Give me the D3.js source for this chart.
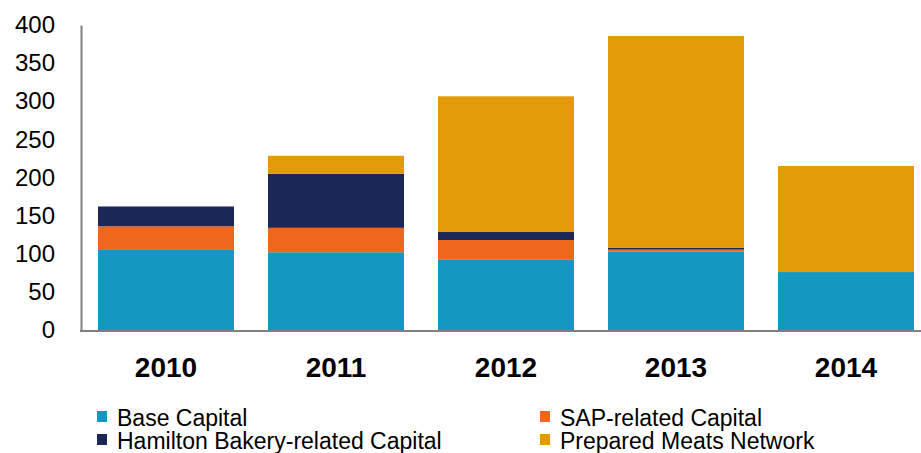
<!DOCTYPE html>
<html>
<head>
<meta charset="utf-8">
<script src="https://cdn.jsdelivr.net/npm/d3@7"></script>
<style>
  body { margin: 0; background: #fff; }
  svg { display: block; font-family: Arial, "Liberation Sans", sans-serif; }
</style>
</head>
<body>
<svg width="921" height="453"></svg>
<script>
var years = ["2010", "2011", "2012", "2013", "2014"];
var seriesNames = ["Base Capital", "SAP-related Capital", "Hamilton Bakery-related Capital", "Prepared Meats Network"];
var baseCapital = [105, 102, 92, 103, 76];
var sapCapital = [31, 32, 26, 2.5, 0];
var hamiltonCapital = [26, 71, 10.5, 2.2, 0];
var preparedMeats = [0, 23.5, 178, 278, 139];
var yTicks = [0, 50, 100, 150, 200, 250, 300, 350, 400];
var colors = ["#1497c0", "#ef661d", "#1b2757", "#e39a09"];

var svg = d3.select("svg");

var rows = years.map(function(yr, i) {
  return {
    year: yr,
    "Base Capital": baseCapital[i],
    "SAP-related Capital": sapCapital[i],
    "Hamilton Bakery-related Capital": hamiltonCapital[i],
    "Prepared Meats Network": preparedMeats[i]
  };
});

var stacked = d3.stack().keys(seriesNames)(rows);

var x = d3.scaleBand()
  .domain(years)
  .range([81, 931])
  .paddingInner(0.2)
  .paddingOuter(0.1);

var y = d3.scaleLinear()
  .domain([0, 400])
  .range([330, 25]);

var color = d3.scaleOrdinal().domain(seriesNames).range(colors);

// bars
svg.append("g")
  .selectAll("g")
  .data(stacked)
  .enter()
  .append("g")
  .attr("fill", function(d) { return color(d.key); })
  .selectAll("rect")
  .data(function(d) { return d; })
  .enter()
  .append("rect")
  .attr("x", function(d) { return x(d.data.year); })
  .attr("width", x.bandwidth())
  .attr("y", function(d) { return y(d[1]); })
  .attr("height", function(d) { return y(d[0]) - y(d[1]); });

// y axis
var yAxis = d3.axisLeft(y).tickValues(yTicks).tickSize(0).tickPadding(26);
var gy = svg.append("g")
  .attr("transform", "translate(81,0)")
  .call(yAxis);
gy.select(".domain").attr("stroke", "#808080").attr("stroke-width", 2);
gy.selectAll("text")
  .attr("font-size", 24)
  .attr("font-family", "Arial, 'Liberation Sans', sans-serif")
  .attr("fill", "#000");

// x axis
var xAxis = d3.axisBottom(x).tickSize(0).tickPadding(0);
var gx = svg.append("g")
  .attr("transform", "translate(0,331)")
  .call(xAxis);
gx.select(".domain").attr("stroke", "#808080").attr("stroke-width", 2)
  .attr("d", "M80,0H921");
gx.selectAll("text")
  .attr("y", 46)
  .attr("dy", 0)
  .attr("font-size", 28)
  .attr("font-weight", "bold")
  .attr("font-family", "Arial, 'Liberation Sans', sans-serif")
  .attr("fill", "#000");

// legend
var legendPos = [[97, 426], [540, 426], [97, 449], [540, 449]];
var lg = svg.append("g")
  .selectAll("g")
  .data(seriesNames)
  .enter()
  .append("g")
  .attr("transform", function(d, i) {
    return "translate(" + legendPos[i][0] + "," + legendPos[i][1] + ")";
  });
lg.append("rect")
  .attr("x", 0)
  .attr("y", -15)
  .attr("width", 10)
  .attr("height", 11)
  .attr("fill", function(d) { return color(d); });
lg.append("text")
  .attr("x", 20)
  .attr("y", 0)
  .attr("font-size", 23)
  .attr("fill", "#000")
  .text(function(d) { return d; });
</script>
</body>
</html>
